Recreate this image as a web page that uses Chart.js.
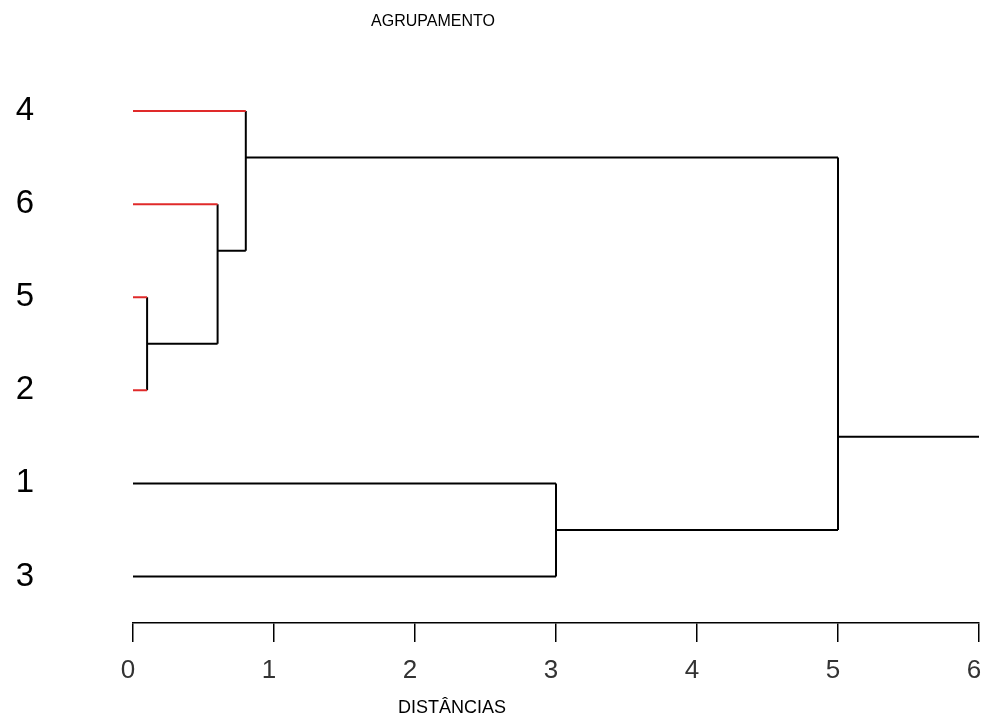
<!DOCTYPE html>
<html>
<head>
<meta charset="utf-8">
<script src="https://cdn.jsdelivr.net/npm/chart.js@4"></script>
<style>
  html, body { margin: 0; background: #fff; }
  #wrap { width: 985px; height: 722px; }
</style>
</head>
<body>
<div id="wrap"><canvas id="dendro"></canvas></div>
<script>
// leaves, top to bottom, and the distance at which each one is joined
const leafLabels = ['4', '6', '5', '2', '1', '3'];
const leafY = [6, 5, 4, 3, 2, 1];
const leafJoin = [0.8, 0.6, 0.1, 0.1, 3, 3];
const leafColors = ['#e02a2a', '#e02a2a', '#e02a2a', '#e02a2a', '#000', '#000'];

// merge nodes: height, vertical span, where the branch leaves, parent height
const nodeHeight = [0.1, 0.6, 0.8, 3, 5];
const nodeTop = [4, 5, 6, 2, 5.5];
const nodeBottom = [3, 3.5, 4.5, 1, 1.5];
const nodeY = [3.5, 4.5, 5.5, 1.5, 2.5];
const nodeParent = [0.6, 0.8, 5, 5, 6];

const distTicks = [0, 1, 2, 3, 4, 5, 6];

const segments = [];
leafY.forEach((y, i) => {
  segments.push({ color: leafColors[i], data: [{ x: 0, y: y }, { x: leafJoin[i], y: y }] });
});
nodeHeight.forEach((h, i) => {
  segments.push({ color: '#000', data: [{ x: h, y: nodeTop[i] }, { x: h, y: nodeBottom[i] }] });
  segments.push({ color: '#000', data: [{ x: h, y: nodeY[i] }, { x: nodeParent[i], y: nodeY[i] }] });
});

const labelsPlugin = {
  id: 'labels',
  afterDraw(chart) {
    const c = chart.ctx;
    c.save();
    c.fillStyle = '#000';
    c.textAlign = 'center';
    c.textBaseline = 'middle';
    c.font = '16px "Liberation Sans", Arial, sans-serif';
    c.fillText('AGRUPAMENTO', 433, 22);
    c.font = '18px "Liberation Sans", Arial, sans-serif';
    c.fillText('DISTÂNCIAS', 452, 708);
    c.restore();
  }
};

new Chart(document.getElementById('dendro'), {
  type: 'scatter',
  data: {
    datasets: segments.map(s => ({
      data: s.data,
      showLine: true,
      borderColor: s.color,
      borderWidth: 2,
      pointRadius: 0,
      pointHoverRadius: 0,
      fill: false
    }))
  },
  options: {
    responsive: true,
    maintainAspectRatio: false,
    animation: false,
    events: [],
    layout: { padding: { top: 64.5, right: 6, left: 0, bottom: 0 } },
    plugins: {
      legend: { display: false },
      tooltip: { enabled: false }
    },
    scales: {
      x: {
        type: 'linear',
        min: 0,
        max: 6,
        afterBuildTicks: s => { s.ticks = distTicks.map(v => ({ value: v })); },
        afterFit: s => { s.height = 99; s.paddingLeft = 0; s.paddingRight = 0; },
        grid: { drawOnChartArea: false, drawTicks: true, tickLength: 19, color: '#000', lineWidth: 1.5 },
        border: { display: true, color: '#000', width: 1.5 },
        ticks: {
          color: '#333',
          padding: 13,
          labelOffset: -5,
          font: { family: '"Liberation Sans", Arial, sans-serif', size: 26 }
        }
      },
      y: {
        type: 'linear',
        min: 0.5,
        max: 6.5,
        afterBuildTicks: s => { s.ticks = leafY.map(v => ({ value: v })); },
        afterFit: s => { s.width = 133; s.paddingTop = 0; s.paddingBottom = 0; },
        grid: { display: false, drawTicks: false },
        border: { display: false },
        ticks: {
          color: '#000',
          padding: 99,
          font: { family: '"Liberation Sans", Arial, sans-serif', size: 33 },
          callback: v => leafLabels[leafY.indexOf(v)]
        }
      }
    }
  },
  plugins: [labelsPlugin]
});
</script>
</body>
</html>
